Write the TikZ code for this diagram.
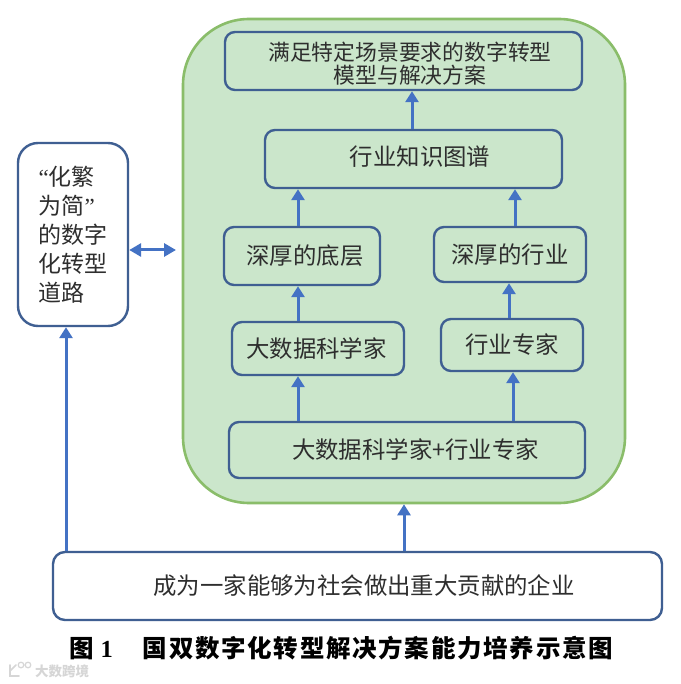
\documentclass[tikz,border=0pt]{standalone}
\usepackage{fontspec}
\setmainfont{Noto Sans CJK SC}
\newfontfamily\latinserif{Liberation Serif}
\usetikzlibrary{arrows.meta}
\definecolor{boxline}{HTML}{3F5F92}
\definecolor{arrowblue}{HTML}{4472C4}
\definecolor{panelfill}{HTML}{CBE6CB}
\definecolor{panelline}{HTML}{8ABD6A}
\definecolor{inkgrey}{HTML}{2E2E2E}
\tikzset{
  x=1pt,y=1pt,
  boxnode/.style n args={2}{draw=boxline,line width=2.4pt,rounded corners=10pt,minimum width=#1,minimum height=#2,inner sep=0pt,text=inkgrey,font=\fontsize{23.4}{23}\selectfont,align=center},
  flowarrow/.style={draw=arrowblue,line width=3pt,-{Triangle[length=11pt,width=13pt]}},
  bothways/.style={draw=arrowblue,line width=3pt,{Triangle[length=12pt,width=13pt]}-{Triangle[length=12pt,width=13pt]}},
}
\begin{document}
\begin{tikzpicture}
\useasboundingbox (0,0) rectangle (680,-684);
\fill[white] (0,0) rectangle (680,-684);
% green panel
\node[draw=panelline,fill=panelfill,line width=2.6pt,rounded corners=66pt,minimum width=442pt,minimum height=484pt,inner sep=0pt] (panel) at (404,-261) {};
% boxes
\node[boxnode={357pt}{58pt}] (goal) at (403.5,-61) {\rule{0pt}{24pt}\hspace*{13pt}\fontsize{21.8}{23}\selectfont 满足特定场景要求的数字转型\\[0pt]\hspace*{13pt}\fontsize{21.8}{23}\selectfont 模型与解决方案};
\node[boxnode={297pt}{58pt}] (graph) at (413.5,-159) {\rule[-7pt]{0pt}{1pt}\hspace*{13pt}行业知识图谱};
\node[boxnode={156pt}{58pt}] (base) at (302,-256) {\hspace*{6pt}深厚的底层};
\node[boxnode={152pt}{55pt}] (depth) at (510,-254.5) {深厚的行业};
\node[boxnode={172pt}{53pt}] (scientist) at (318,-348.5) {\hspace*{-3pt}大数据科学家};
\node[boxnode={142pt}{52pt}] (expert) at (512,-345) {行业专家};
\node[boxnode={356pt}{56pt}] (both) at (407,-450) {\hspace*{17pt}大数据科学家+行业专家};
\node[boxnode={609pt}{68pt},rounded corners=12pt] (company) at (357.5,-586) {\hspace*{13pt}成为一家能够为社会做出重大贡献的企业};
\node[boxnode={110pt}{183pt},rounded corners=20pt,align=left,font=\fontsize{23}{29}\selectfont] (road) at (73,-234.5) {{\latinserif “}化繁\\为简{\latinserif ”}\\的数字\\化转型\\道路};
% column guides for the arrows
\coordinate (colA) at (412,0);
\coordinate (colB) at (298,0);
\coordinate (colC) at (515,0);
\coordinate (colD) at (509,0);
\coordinate (colE) at (513,0);
\coordinate (colF) at (404,0);
\coordinate (colG) at (66,0);
\coordinate (rowH) at (0,-250);
\coordinate (panelgap) at (176,-250);
% arrows
\draw[flowarrow] (graph.north -| colA) -- (goal.south -| colA);
\draw[flowarrow] (base.north -| colB) -- (graph.south -| colB);
\draw[flowarrow] (depth.north -| colC) -- (graph.south -| colC);
\draw[flowarrow] (scientist.north -| colB) -- (base.south -| colB);
\draw[flowarrow] (expert.north -| colD) -- (depth.south -| colD);
\draw[flowarrow] (both.north -| colB) -- (scientist.south -| colB);
\draw[flowarrow] (both.north -| colE) -- (expert.south -| colE);
\draw[flowarrow] (company.north -| colF) -- (panel.south -| colF);
\draw[flowarrow] (company.north -| colG) -- (road.south -| colG);
\draw[bothways] (road.east |- rowH) -- (panelgap);
% caption
\node[inner sep=0pt,text=black,font=\fontsize{24.5}{25}\selectfont\bfseries] (caption) at (341,-648) {图\hspace{7pt}{\latinserif 1}\hspace{30pt}\addfontfeature{LetterSpace=7}国双数字化转型解决方案能力培养示意图};
% watermark
\node[inner sep=0pt,text=black!16,font=\fontsize{13.5}{14}\selectfont\bfseries] (mark) at (62,-671) {大数跨境};
\draw[black!16,line width=1.6pt,line cap=round] (10,-665) -- (10,-676) -- (19,-676) (10,-671) -- (16,-665);
\draw[black!16,line width=1.2pt] (21,-665) circle (2.8pt) (28,-665) circle (2.8pt);
\end{tikzpicture}
\end{document}
